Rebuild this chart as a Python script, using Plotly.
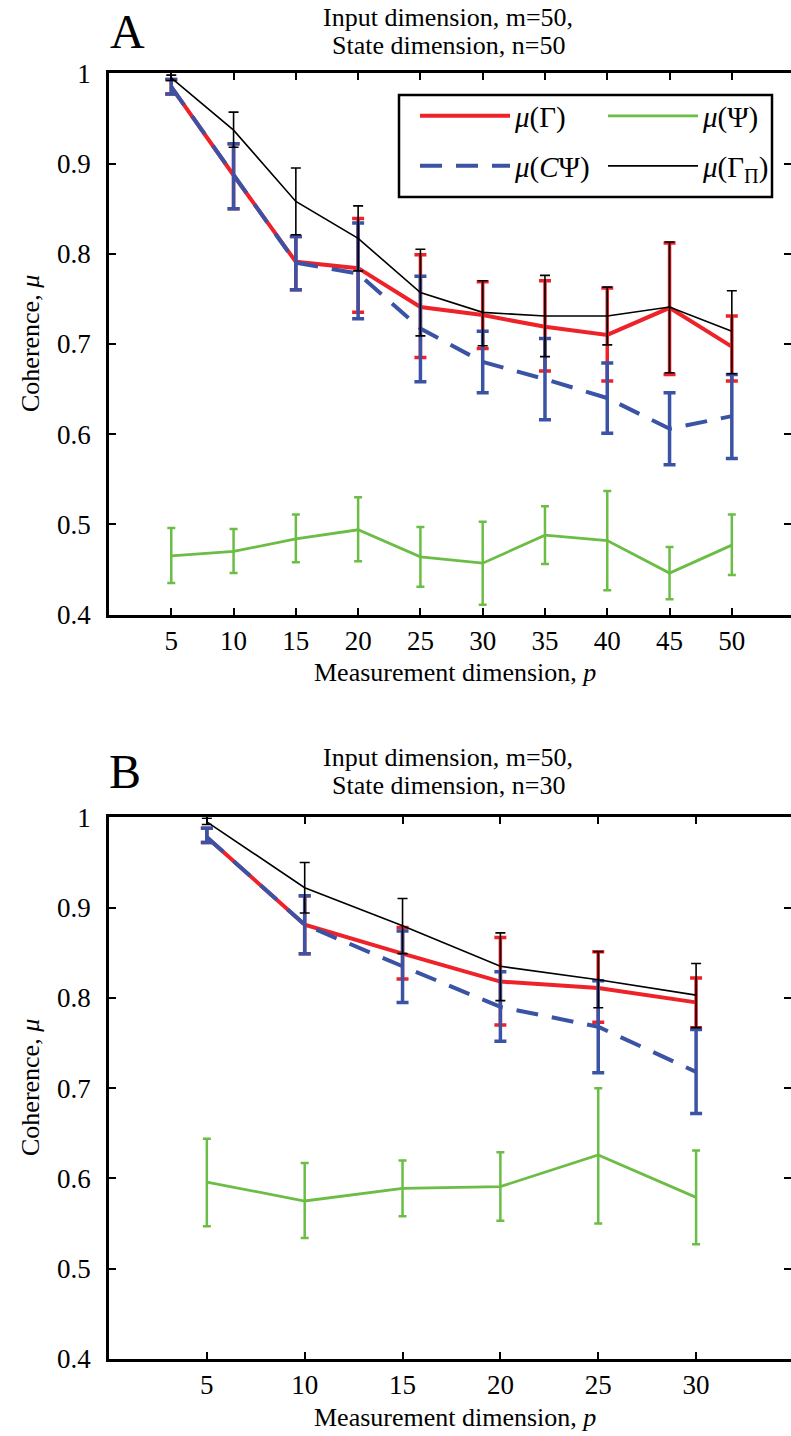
import numpy as np
import plotly.graph_objects as go

# ---------------- data ----------------
p_A = [5, 10, 15, 20, 25, 30, 35, 40, 45, 50]
gamma_A = [0.985, 0.887, 0.791, 0.784, 0.741, 0.732, 0.719, 0.710, 0.740, 0.697]
gamma_A_hi = [0.993, 0.922, 0.819, 0.839, 0.799, 0.769, 0.770, 0.762, 0.812, 0.731]
gamma_A_lo = [0.977, 0.850, 0.760, 0.735, 0.685, 0.695, 0.670, 0.659, 0.666, 0.659]
cpsi_A = [0.985, 0.887, 0.790, 0.778, 0.717, 0.680, 0.661, 0.640, 0.606, 0.620]
cpsi_A_hi = [0.993, 0.922, 0.819, 0.834, 0.775, 0.714, 0.706, 0.679, 0.646, 0.666]
cpsi_A_lo = [0.977, 0.850, 0.760, 0.728, 0.658, 0.646, 0.616, 0.601, 0.566, 0.573]
gpi_A = [0.995, 0.937, 0.858, 0.817, 0.757, 0.735, 0.731, 0.731, 0.741, 0.714]
gpi_A_hi = [0.998, 0.957, 0.895, 0.853, 0.805, 0.770, 0.776, 0.763, 0.813, 0.759]
gpi_A_lo = [0.992, 0.918, 0.821, 0.781, 0.709, 0.698, 0.686, 0.699, 0.668, 0.667]
psi_A = [0.465, 0.470, 0.484, 0.494, 0.464, 0.457, 0.488, 0.482, 0.446, 0.477]
psi_A_hi = [0.496, 0.495, 0.511, 0.530, 0.497, 0.503, 0.520, 0.537, 0.475, 0.511]
psi_A_lo = [0.435, 0.446, 0.458, 0.459, 0.431, 0.411, 0.456, 0.427, 0.417, 0.444]

p_B = [5, 10, 15, 20, 25, 30]
gamma_B = [0.978, 0.881, 0.849, 0.818, 0.811, 0.795]
gamma_B_hi = [0.988, 0.913, 0.878, 0.867, 0.851, 0.822]
gamma_B_lo = [0.972, 0.849, 0.821, 0.770, 0.773, 0.767]
cpsi_B = [0.978, 0.881, 0.835, 0.790, 0.768, 0.718]
cpsi_B_hi = [0.988, 0.913, 0.874, 0.829, 0.819, 0.765]
cpsi_B_lo = [0.972, 0.849, 0.795, 0.752, 0.717, 0.672]
gpi_B = [0.995, 0.922, 0.880, 0.835, 0.820, 0.803]
gpi_B_hi = [0.999, 0.950, 0.910, 0.872, 0.851, 0.838]
gpi_B_lo = [0.992, 0.894, 0.849, 0.797, 0.789, 0.767]
psi_B = [0.596, 0.575, 0.589, 0.591, 0.626, 0.579]
psi_B_hi = [0.644, 0.617, 0.620, 0.629, 0.700, 0.631]
psi_B_lo = [0.547, 0.534, 0.558, 0.553, 0.550, 0.527]

y_ticks = [0.4, 0.5, 0.6, 0.7, 0.8, 0.9, 1.0]
y_ticktext = ["0.4", "0.5", "0.6", "0.7", "0.8", "0.9", "1"]

names = {
    "gamma": "<i>μ</i>(Γ)",
    "psi": "<i>μ</i>(Ψ)",
    "cpsi": "<i>μ</i>(<i>C</i>Ψ)",
    "gpi": "<i>μ</i>(Γ<sub>Π</sub>)",
}

RED = "#EE2229"
BLUE = "#3A53A4"
GREEN = "#6BBD45"
BLACK = "#000000"
FONT = "Liberation Serif"

W, H = 791, 1436

fig = go.Figure()


def add_series(x, m, hi, lo, key, color, width, dash, ethick, ewidth, xa, ya, show, leg):
    m = np.array(m)
    fig.add_trace(go.Scatter(
        x=x, y=m, mode="lines", name=names[key],
        line=dict(color=color, width=width, dash=dash),
        error_y=dict(type="data", symmetric=False,
                     array=np.array(hi) - m, arrayminus=m - np.array(lo),
                     color=color, thickness=ethick, width=ewidth),
        xaxis=xa, yaxis=ya, showlegend=show, legend=leg,
    ))


for (x, d, xa, ya, show) in [
    (p_A, dict(g=(gamma_A, gamma_A_hi, gamma_A_lo), c=(cpsi_A, cpsi_A_hi, cpsi_A_lo),
               s=(psi_A, psi_A_hi, psi_A_lo), k=(gpi_A, gpi_A_hi, gpi_A_lo)), "x", "y", True),
    (p_B, dict(g=(gamma_B, gamma_B_hi, gamma_B_lo), c=(cpsi_B, cpsi_B_hi, cpsi_B_lo),
               s=(psi_B, psi_B_hi, psi_B_lo), k=(gpi_B, gpi_B_hi, gpi_B_lo)), "x2", "y2", False),
]:
    add_series(x, *d["g"], "gamma", RED, 4, "solid", 3.5, 6, xa, ya, show, "legend")
    add_series(x, *d["c"], "cpsi", BLUE, 4, "22px,14px", 3.5, 6, xa, ya, show, "legend2")
    add_series(x, *d["s"], "psi", GREEN, 2.8, "solid", 2.5, 4, xa, ya, show, "legend")
    add_series(x, *d["k"], "gpi", BLACK, 1.6, "solid", 1.6, 5, xa, ya, show, "legend2")


def px_y(y):
    return (H - y) / H


def px_x(x):
    return x / W


LEFT = 109
tickfont = dict(family=FONT, size=27, color="black")
axis_common = dict(showline=True, linewidth=2.5, linecolor="black", mirror="ticks",
                   ticks="inside", ticklen=7, tickwidth=1.5, tickcolor="black",
                   showgrid=False, zeroline=False, tickfont=tickfont, automargin=False)

legfont = dict(family=FONT, size=29, color="black")
leg_common = dict(orientation="h", entrywidth=83, bgcolor="rgba(0,0,0,0)",
                  borderwidth=0, font=legfont, xanchor="left", yanchor="middle",
                  itemwidth=90)

fig.update_layout(
    width=W, height=H,
    margin=dict(l=0, r=0, t=0, b=0, autoexpand=False),
    paper_bgcolor="white", plot_bgcolor="white",
    font=dict(family=FONT, color="black"),
    xaxis=dict(domain=[px_x(LEFT), 1.0], range=[0, 54.75], tickvals=p_A, anchor="y",
               **axis_common),
    yaxis=dict(domain=[px_y(614.6), px_y(73.3)], range=[0.4, 1.0], tickvals=y_ticks,
               ticktext=y_ticktext, anchor="x", ticklabelstandoff=10, **axis_common),
    xaxis2=dict(domain=[px_x(LEFT), 1.0], range=[0, 34.85], tickvals=p_B, anchor="y2",
                **axis_common),
    yaxis2=dict(domain=[px_y(1359), px_y(817.3)], range=[0.4, 1.0], tickvals=y_ticks,
                ticktext=y_ticktext, anchor="x2", ticklabelstandoff=10, **axis_common),
    legend=dict(x=px_x(415), y=px_y(116), **leg_common),
    legend2=dict(x=px_x(415), y=px_y(166), **leg_common),
    showlegend=True,
    shapes=[dict(type="rect", xref="paper", yref="paper",
                 x0=px_x(399), x1=px_x(772), y0=px_y(197), y1=px_y(95),
                 line=dict(color="black", width=2.5), fillcolor="rgba(0,0,0,0)",
                 layer="above")],
)

ann_font = dict(family=FONT, size=26, color="black")
annotations = [
    dict(text="A", x=px_x(127), y=px_y(31), font=dict(family=FONT, size=48, color="black")),
    dict(text="B", x=px_x(125), y=px_y(771), font=dict(family=FONT, size=48, color="black")),
    dict(text="Input dimension, m=50,", x=px_x(448), y=px_y(17), font=ann_font),
    dict(text="State dimension, n=50", x=px_x(448), y=px_y(46), font=ann_font),
    dict(text="Input dimension, m=50,", x=px_x(448), y=px_y(757), font=ann_font),
    dict(text="State dimension, n=30", x=px_x(448), y=px_y(786), font=ann_font),
    dict(text="Measurement dimension, <i>p</i>", x=px_x(455), y=px_y(672), font=ann_font),
    dict(text="Measurement dimension, <i>p</i>", x=px_x(455), y=px_y(1417), font=ann_font),
    dict(text="Coherence, <i>μ</i>", x=px_x(30), y=px_y(344), textangle=-90, font=ann_font),
    dict(text="Coherence, <i>μ</i>", x=px_x(30), y=px_y(1088), textangle=-90, font=ann_font),
]
for a in annotations:
    a.update(xref="paper", yref="paper", showarrow=False, xanchor="center",
             yanchor="middle", borderpad=0)
fig.update_layout(annotations=annotations)

fig.write_html("out.html", config={"displayModeBar": False},
               post_script="document.body.style.margin='0px';")
